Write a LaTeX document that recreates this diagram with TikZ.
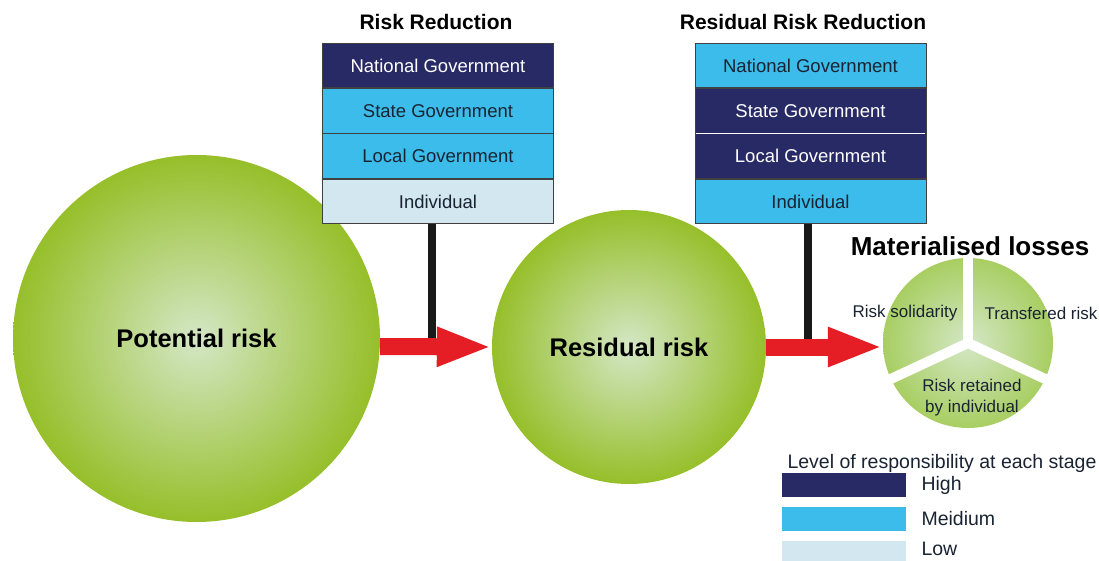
\documentclass[tikz,border=0pt]{standalone}
\usepackage{fontspec}
\setmainfont{Liberation Sans}
\usetikzlibrary{positioning,arrows.meta}

\definecolor{alta}{RGB}{40,42,102}
\definecolor{media}{RGB}{60,188,234}
\definecolor{bassa}{RGB}{210,231,240}
\definecolor{verdeout}{RGB}{150,191,42}
\definecolor{verdein}{RGB}{212,231,198}
\definecolor{torta}{RGB}{168,206,98}
\definecolor{testo}{RGB}{25,35,50}
\definecolor{rosso}{RGB}{228,30,36}

\tikzset{
  riga/.style={draw=black!75, line width=0.8pt, minimum width=231pt, minimum height=44.5pt, inner sep=0pt, text=testo, font=\fontsize{18.5}{21}\selectfont},
  alto/.style={riga, fill=alta, text=white},
  medio/.style={riga, fill=media},
  basso/.style={riga, fill=bassa},
  palla/.style={circle, inner sep=0pt, shade, inner color=verdein, outer color=verdeout, font=\bfseries\fontsize{25.5}{28}\selectfont},
  freccia/.style={rosso, line width=17pt, -{Triangle[length=55pt,width=36pt]}},
  asta/.style={line width=8pt, black!90},
  titolo/.style={font=\bfseries\fontsize{21}{24}\selectfont},
  fetta/.style={font=\fontsize{17}{21}\selectfont, text=testo, align=center},
  leg/.style={minimum width=124pt, minimum height=24pt, inner sep=0pt},
  legtesto/.style={font=\fontsize{19.5}{22}\selectfont, text=testo},
}

\begin{document}
\begin{tikzpicture}[x=1pt,y=-1pt]
  \useasboundingbox (0,0) rectangle (1099,561);
  %cerchi
  \node[palla, minimum size=367pt] (pot) at (196.5,338.5) {Potential risk};
  \node[palla, minimum size=274pt] (res) at (629,347) {Residual risk};
  \node[circle, inner sep=0pt, minimum size=170pt, shade, inner color=verdein, outer color=torta] (pie) at (968,343) {};
  %primo riquadro
  \node[titolo] (tit1) at (436,22) {Risk Reduction};
  \node[alto] (a1) at (438,65.5) {National Government};
  \node[medio, below=0pt of a1] (a2) {State Government};
  \node[medio, below=0pt of a2] (a3) {Local Government};
  \node[basso, below=0pt of a3] (a4) {Individual};
  %secondo riquadro
  \node[titolo] (tit2) at (803,22) {Residual Risk Reduction};
  \node[medio] (b1) at (810.5,65.5) {National Government};
  \node[alto, below=0pt of b1] (b2) {State Government};
  \node[alto, below=0pt of b2] (b3) {Local Government};
  \node[medio, below=0pt of b3] (b4) {Individual};
  \draw[white, line width=1.2pt] ([xshift=1pt]b2.south west) -- ([xshift=-1pt]b2.south east);
  %aste nere
  \coordinate (base1) at (432,340);
  \coordinate (base2) at (808,340);
  \draw[asta] (a4.south -| base1) -- (base1);
  \draw[asta] (b4.south -| base2) -- (base2);
  %frecce rosse
  \draw[freccia] ([yshift=-8pt]pot.east) -- (res.west);
  \draw[freccia] (res.east) -- (res.east -| pie.west);
  %torta
  \node[font=\bfseries\fontsize{26}{28}\selectfont] (mat) at (970,246) {Materialised losses};
  \foreach \ang in {90,205,335}
    \draw[white, line width=10pt, shorten >=-3pt] (pie.center) -- (pie.\ang);
  \node[fetta] (sol) at (905,313) {Risk solidarity};
  \node[fetta] (tra) at (1041,313) {Transfered risk};
  \node[fetta] (ret) at (972,398) {Risk retained\\by individual};
  %legenda
  \node[legtesto] (legt) at (942,463) {Level of responsibility at each stage};
  \node[leg, fill=alta] (lh) at (844,485) {};
  \node[leg, fill=media] (lm) at (844,519) {};
  \node[leg, fill=bassa, minimum height=20pt] (ll) at (844,551) {};
  \node[legtesto, anchor=west] (th) at (918,485) {High};
  \node[legtesto, anchor=west] (tm) at (918,519) {Meidium};
  \node[legtesto, anchor=west] (tl) at (918,549) {Low};
\end{tikzpicture}
\end{document}
